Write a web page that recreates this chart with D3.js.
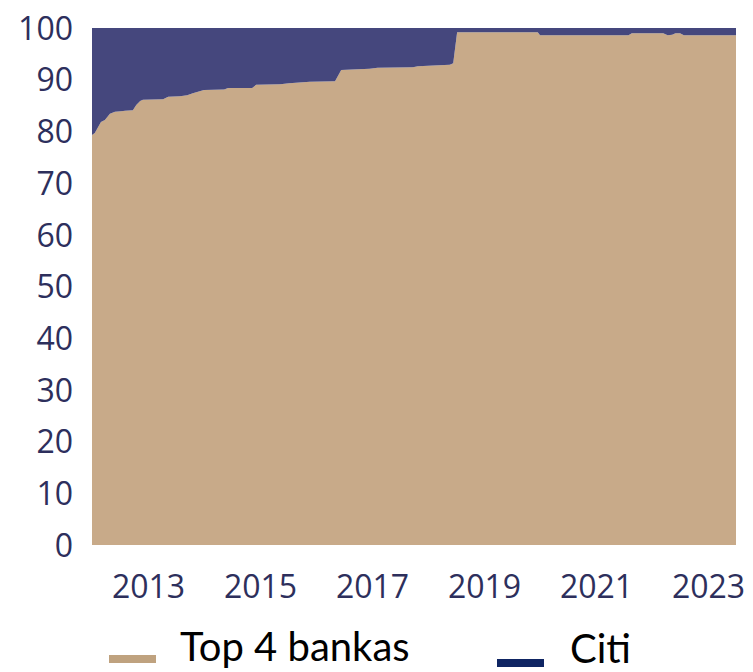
<!DOCTYPE html>
<html>
<head>
<meta charset="utf-8">
<script src="https://cdn.jsdelivr.net/npm/d3@7/dist/d3.min.js"></script>
<style>
  html, body { margin: 0; padding: 0; background: #ffffff; }
  svg { display: block; }
</style>
</head>
<body>
<svg id="chart" width="753" height="672"></svg>
<script>
// ---- data ----
const dates = [2012.00, 2012.05, 2012.16, 2012.23, 2012.32, 2012.41, 2012.52, 2012.59, 2012.73, 2012.79,
  2012.86, 2012.91, 2013.27, 2013.36, 2013.57, 2013.70, 2013.80, 2014.00, 2014.36, 2014.43,
  2014.86, 2014.93, 2015.36, 2015.52, 2015.89, 2016.34, 2016.45, 2016.96, 2017.10, 2017.73,
  2017.82, 2018.39, 2018.45, 2018.52, 2019.96, 2020.00, 2021.58, 2021.64, 2022.20, 2022.28,
  2022.36, 2022.42, 2022.50, 2022.57, 2023.50];
const top4 = [79.3, 79.7, 81.8, 82.2, 83.4, 83.8, 83.9, 84.0, 84.1, 85.1,
  85.9, 86.1, 86.2, 86.7, 86.8, 87.0, 87.4, 88.0, 88.1, 88.4,
  88.4, 89.0, 89.1, 89.3, 89.6, 89.7, 91.9, 92.1, 92.3, 92.4,
  92.6, 92.9, 93.2, 99.2, 99.2, 98.6, 98.6, 99.0, 99.0, 98.6,
  98.7, 99.0, 99.0, 98.6, 98.6];
const citi = [20.7, 20.3, 18.2, 17.8, 16.6, 16.2, 16.1, 16.0, 15.9, 14.9,
  14.1, 13.9, 13.8, 13.3, 13.2, 13.0, 12.6, 12.0, 11.9, 11.6,
  11.6, 11.0, 10.9, 10.7, 10.4, 10.3, 8.1, 7.9, 7.7, 7.6,
  7.4, 7.1, 6.8, 0.8, 0.8, 1.4, 1.4, 1.0, 1.0, 1.4,
  1.3, 1.0, 1.0, 1.4, 1.4];
const seriesNames = ["Top 4 bankas", "Citi"];
const xTickValues = [2013, 2015, 2017, 2019, 2021, 2023];
const yTickValues = [0, 10, 20, 30, 40, 50, 60, 70, 80, 90, 100];

const colors = { "Top 4 bankas": "#c8aa89", "Citi": "#45477d" };
const legendColors = { "Top 4 bankas": "#bfa27f", "Citi": "#0f2563" };

// ---- build table ----
const rows = dates.map((d, i) => ({ date: d, "Top 4 bankas": top4[i], "Citi": citi[i] }));

const svg = d3.select("#chart");
const x = d3.scaleLinear().domain([2012, 2023.5]).range([92, 736]);
const y = d3.scaleLinear().domain([0, 100]).range([545, 28]);

const stack = d3.stack().keys(seriesNames);
const layers = stack(rows);

const area = d3.area()
  .x(d => x(d.data.date))
  .y0(d => y(d[0]))
  .y1(d => y(Math.min(100, d[1])))
  .curve(d3.curveLinear);

svg.append("g").selectAll("path")
  .data(layers)
  .join("path")
  .attr("d", area)
  .attr("fill", d => colors[d.key]);

// y axis
const yAxis = d3.axisLeft(y).tickValues(yTickValues).tickSize(0).tickPadding(0);
const gy = svg.append("g").attr("transform", "translate(73,0)").call(yAxis);
gy.select(".domain").remove();
gy.selectAll("text")
  .attr("fill", "#2d2f5c")
  .attr("font-family", "'Open Sans', sans-serif")
  .attr("font-size", 32)
  .attr("dy", "0.35em");

// x axis
const xAxis = d3.axisBottom(x).tickValues(xTickValues).tickFormat(d3.format("d")).tickSize(0).tickPadding(0);
const gx = svg.append("g").attr("transform", "translate(0,575)").call(xAxis);
gx.select(".domain").remove();
gx.selectAll("text")
  .attr("fill", "#2d2f5c")
  .attr("font-family", "'Open Sans', sans-serif")
  .attr("font-size", 32)
  .attr("dy", "0.72em");

// legend
const legendItems = [
  { name: "Top 4 bankas", sx: 109, sy: 655, tx: 180, ty: 661 },
  { name: "Citi", sx: 497, sy: 659, tx: 570, ty: 663 }
];
const lg = svg.append("g");
legendItems.forEach(it => {
  lg.append("rect").attr("x", it.sx).attr("y", it.sy).attr("width", 47).attr("height", 8)
    .attr("fill", legendColors[it.name]);
  lg.append("text").attr("x", it.tx).attr("y", it.ty)
    .attr("font-family", "Lato, sans-serif")
    .attr("font-size", 40)
    .attr("fill", "#000000")
    .text(it.name);
});
</script>
</body>
</html>
